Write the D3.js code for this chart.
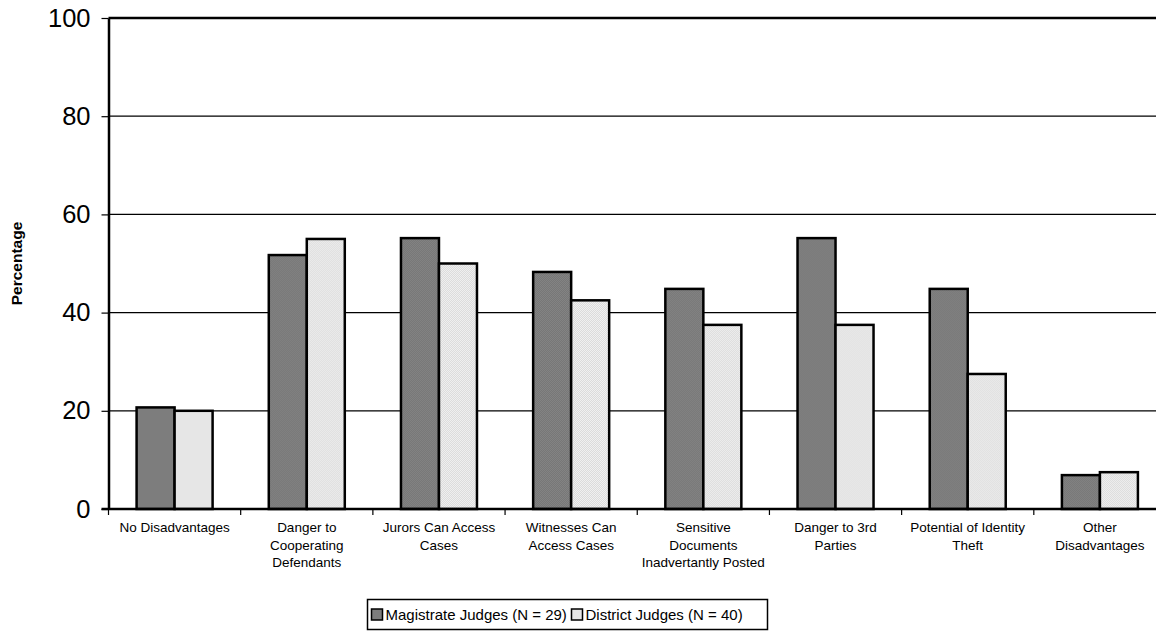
<!DOCTYPE html>
<html>
<head>
<meta charset="utf-8">
<script src="https://cdn.jsdelivr.net/npm/d3@7"></script>
<style>
  html, body { margin: 0; padding: 0; background: #fff; }
  svg { display: block; font-family: "Liberation Sans", Arial, sans-serif; }
</style>
</head>
<body>
<svg id="chart" width="1156" height="632"></svg>
<script>
(function () {
  // ---------- Data ----------
  const categories = [
    'No Disadvantages',
    'Danger to\nCooperating\nDefendants',
    'Jurors Can Access\nCases',
    'Witnesses Can\nAccess Cases',
    'Sensitive\nDocuments\nInadvertantly Posted',
    'Danger to 3rd\nParties',
    'Potential of Identity\nTheft',
    'Other\nDisadvantages'
  ];
  const seriesNames = ['Magistrate Judges (N = 29)', 'District Judges (N = 40)'];
  const magistrate = [20.69, 51.72, 55.17, 48.28, 44.83, 55.17, 44.83, 6.9];
  const district   = [20.0, 55.0, 50.0, 42.5, 37.5, 37.5, 27.5, 7.5];
  const yTicks = [0, 20, 40, 60, 80, 100];

  const svg = d3.select('#chart');
  const left = 108.5, right = 1166, top = 18, bottom = 509;

  // ---------- Patterns ----------
  const defs = svg.append('defs');
  function checker(id, a, b) {
    const p = defs.append('pattern').attr('id', id)
      .attr('patternUnits', 'userSpaceOnUse').attr('width', 2).attr('height', 2);
    p.append('rect').attr('width', 2).attr('height', 2).attr('fill', a);
    p.append('rect').attr('width', 1).attr('height', 1).attr('fill', b);
    p.append('rect').attr('x', 1).attr('y', 1).attr('width', 1).attr('height', 1).attr('fill', b);
  }
  checker('pat-mag', '#848484', '#767676');
  checker('pat-dis', '#f2f2f2', '#d9d9d9');
  const fills = ['url(#pat-mag)', 'url(#pat-dis)'];

  // ---------- Scales ----------
  const x = d3.scaleBand().domain(d3.range(categories.length)).range([left, right]).padding(0);
  const y = d3.scaleLinear().domain([0, 100]).range([bottom, top]);
  const groupW = x.bandwidth() * 0.575;
  const x1 = d3.scaleBand().domain([0, 1]).range([(x.bandwidth() - groupW) / 2, (x.bandwidth() + groupW) / 2]);

  // ---------- Gridlines ----------
  svg.append('g')
    .selectAll('line')
    .data(yTicks.filter(t => t > 0))
    .enter().append('line')
    .attr('x1', left).attr('x2', 1156)
    .attr('y1', d => y(d)).attr('y2', d => y(d))
    .attr('stroke', '#000')
    .attr('stroke-width', d => d === 100 ? 2.5 : 1.2);

  // ---------- Bars ----------
  const rows = categories.map((c, i) => [magistrate[i], district[i]]);
  const groups = svg.append('g').selectAll('g.grp')
    .data(rows).enter().append('g')
    .attr('class', 'grp')
    .attr('transform', (d, i) => `translate(${x(i)},0)`);

  groups.selectAll('rect')
    .data(d => d.map((v, s) => ({ v, s })))
    .enter().append('rect')
    .attr('x', d => x1(d.s))
    .attr('width', x1.bandwidth())
    .attr('y', d => y(d.v))
    .attr('height', d => y(0) - y(d.v))
    .attr('fill', d => fills[d.s])
    .attr('stroke', '#000')
    .attr('stroke-width', 2.5);

  // ---------- Y axis ----------
  const yAxis = svg.append('g')
    .attr('transform', `translate(${left},0)`)
    .call(d3.axisLeft(y).tickValues(yTicks).tickSize(7).tickSizeOuter(0).tickPadding(11));
  yAxis.select('.domain').attr('stroke', '#000').attr('stroke-width', 2.5);
  yAxis.selectAll('.tick line').attr('stroke', '#000').attr('stroke-width', 1.2);
  yAxis.selectAll('.tick text')
    .attr('fill', '#000')
    .style('font-size', '25.5px')
    .style('font-family', '"Liberation Sans", Arial, sans-serif');

  svg.append('text')
    .attr('transform', `translate(22,${(top + bottom) / 2}) rotate(-90)`)
    .attr('text-anchor', 'middle')
    .style('font-size', '15.5px')
    .style('font-weight', 'bold')
    .text('Percentage');

  // ---------- X axis ----------
  svg.append('line')
    .attr('x1', left - 7).attr('x2', 1156)
    .attr('y1', bottom).attr('y2', bottom)
    .attr('stroke', '#000').attr('stroke-width', 2.5);

  svg.append('g').selectAll('line')
    .data(d3.range(categories.length + 1))
    .enter().append('line')
    .attr('x1', i => left + i * x.step()).attr('x2', i => left + i * x.step())
    .attr('y1', bottom).attr('y2', bottom + 6)
    .attr('stroke', '#000').attr('stroke-width', 1.2);

  const labels = svg.append('g').selectAll('text')
    .data(categories).enter().append('text')
    .attr('text-anchor', 'middle')
    .attr('x', (d, i) => x(i) + x.bandwidth() / 2)
    .attr('y', 532)
    .style('font-size', '13.5px');
  labels.selectAll('tspan')
    .data(d => d.split('\n'))
    .enter().append('tspan')
    .attr('x', function () { return d3.select(this.parentNode).attr('x'); })
    .attr('dy', (d, i) => i === 0 ? 0 : 17.5)
    .text(d => d);

  // ---------- Legend ----------
  const lg = svg.append('g').attr('transform', 'translate(367.5,599.5)');
  lg.append('rect').attr('width', 400).attr('height', 30)
    .attr('fill', '#fff').attr('stroke', '#000').attr('stroke-width', 1.5);
  const itemX = [4, 204];
  seriesNames.forEach((name, s) => {
    lg.append('rect')
      .attr('x', itemX[s]).attr('y', 9.5).attr('width', 11).attr('height', 11)
      .attr('fill', fills[s]).attr('stroke', '#000').attr('stroke-width', 1.5);
    lg.append('text')
      .attr('x', itemX[s] + 14).attr('y', 20.5)
      .style('font-size', '15px')
      .text(name);
  });
})();
</script>
</body>
</html>
